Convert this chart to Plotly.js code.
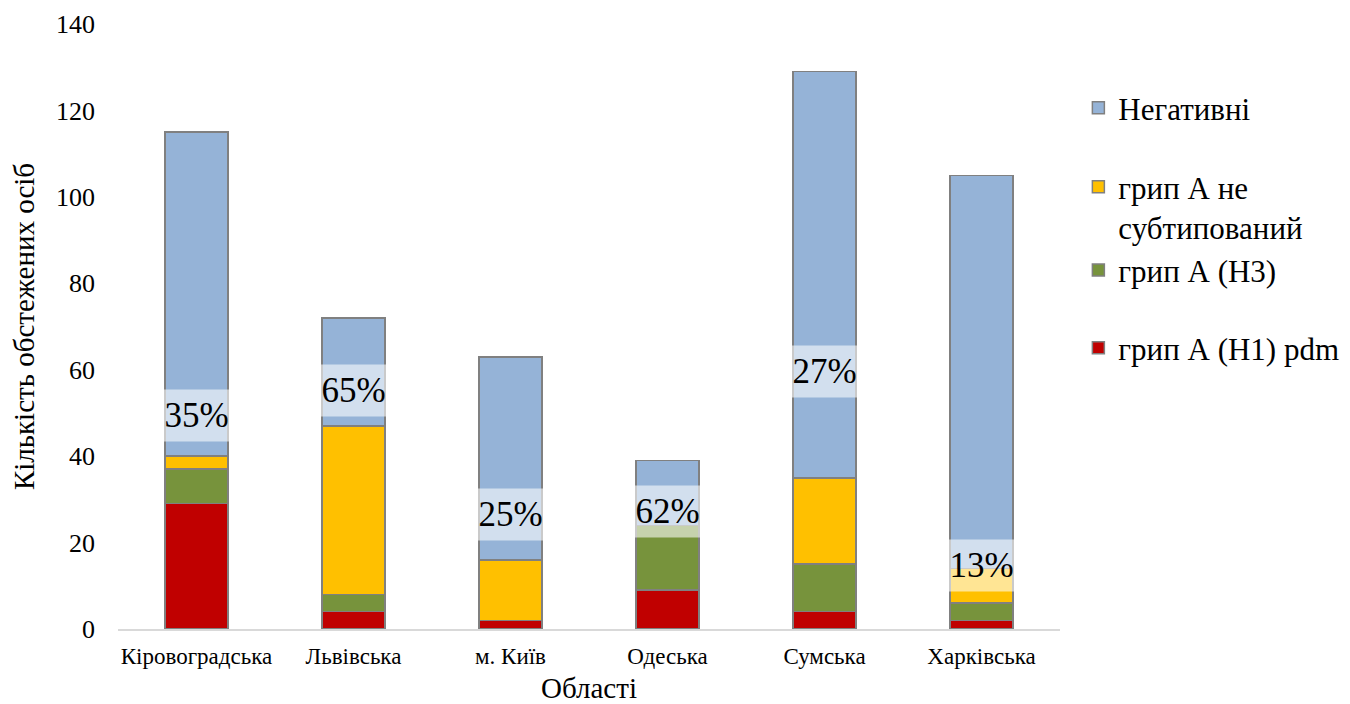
<!DOCTYPE html>
<html>
<head>
<meta charset="utf-8">
<script src="https://cdn.plot.ly/plotly-3.0.1.min.js"></script>
<style>html,body{margin:0;padding:0;background:#fff;}#chart{width:1350px;height:704px;}</style>
</head>
<body>
<div id="chart"></div>
<script>
// ---- data ----
const regions = ["Кіровоградська", "Львівська", "м. Київ", "Одеська", "Сумська", "Харківська"];
const h1pdm = [29, 4, 2, 9, 4, 2];
const h3 = [8, 4, 0, 15, 11, 4];
const untyped = [3, 39, 14, 0, 20, 8];
const negative = [75, 25, 47, 15, 94, 91];
const seriesNames = ["грип А (Н1) pdm", "грип А (Н3)", "грип А не<br>субтипований", "Негативні"];
// vertical placement of the percentage labels (data units)
const labelY = [49.5, 55.2, 26.4, 27.2, 59.5, 14.8];

const FONT = "Times New Roman, serif";
const colors = ["#C00000", "#77933C", "#FFC000", "#95B3D7"];
const series = [h1pdm, h3, untyped, negative];
const legendIds = ["legend4", "legend3", "legend2", "legend"];
const legendY = [0.4645, 0.593, 0.6975, 0.861];

const traces = series.map((vals, i) => ({
  type: "bar",
  x: regions,
  y: vals,
  name: seriesNames[i],
  legend: legendIds[i],
  marker: { color: colors[i], line: { color: "#808080", width: 1.5 } },
  hoverinfo: "x+y+name"
}));

const annotations = regions.map((r, i) => {
  const pos = h1pdm[i] + h3[i] + untyped[i];
  const tot = pos + negative[i];
  return {
    x: r, y: labelY[i], xref: "x", yref: "y",
    text: Math.round(pos / tot * 100) + "%",
    showarrow: false,
    font: { family: FONT, size: 35, color: "#000" },
    bgcolor: "rgba(255,255,255,0.58)",
    width: 65, height: 51, valign: "middle", align: "center",
    borderpad: 0
  };
});

const legendBase = {
  x: 1.0195, xanchor: "left", yanchor: "middle",
  font: { family: FONT, size: 31, color: "#000" },
  itemwidth: 30, valign: "top", bgcolor: "rgba(0,0,0,0)"
};

const layout = {
  width: 1350, height: 704,
  margin: { l: 118, r: 290, t: 24, b: 75, autoexpand: false },
  paper_bgcolor: "#fff", plot_bgcolor: "#fff",
  barmode: "stack",
  bargap: 0.6,
  font: { family: FONT, color: "#000", size: 20 },
  xaxis: {
    showline: true, linecolor: "#d9d9d9", linewidth: 1.5,
    ticks: "", showgrid: false,
    tickfont: { family: FONT, size: 23 }, ticklabelstandoff: 6,
    title: { text: "Області", font: { family: FONT, size: 29 }, standoff: 10 }
  },
  yaxis: {
    range: [0, 140], dtick: 20, showgrid: false, zeroline: false, showline: false,
    ticks: "", tickfont: { family: FONT, size: 26 }, ticklabelstandoff: 22,
    title: { text: "Кількість обстежених осіб", font: { family: FONT, size: 29 }, standoff: 12 }
  },
  legend: Object.assign({}, legendBase, { y: legendY[3] }),
  legend2: Object.assign({}, legendBase, { y: legendY[2] }),
  legend3: Object.assign({}, legendBase, { y: legendY[1] }),
  legend4: Object.assign({}, legendBase, { y: legendY[0] }),
  annotations: annotations,
  showlegend: true
};

Plotly.newPlot("chart", traces, layout, { displayModeBar: false, staticPlot: true });
</script>
</body>
</html>
